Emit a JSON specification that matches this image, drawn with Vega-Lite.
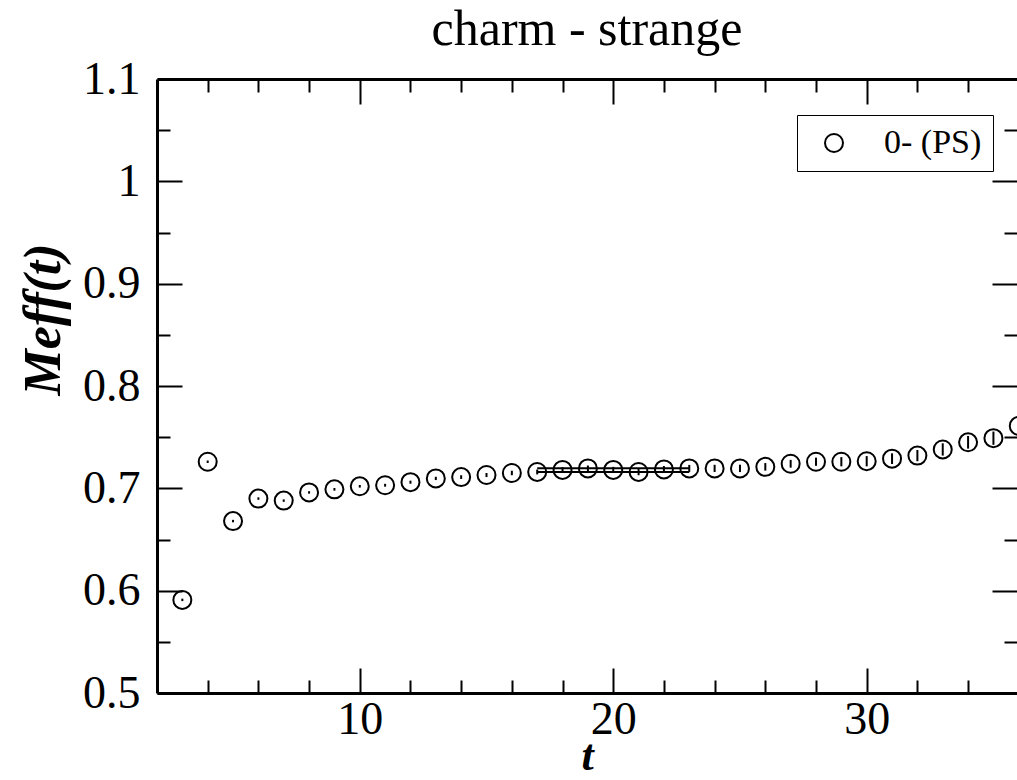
{
  "$schema": "https://vega.github.io/schema/vega-lite/v6.json",
  "width": 860,
  "height": 614,
  "autosize": {"type": "none"},
  "padding": {"left": 157, "top": 79, "right": 0, "bottom": 87},
  "background": "white",
  "title": {"text": "charm - strange", "font": "Liberation Serif", "fontSize": 50, "fontWeight": "normal", "color": "black", "anchor": "middle", "baseline": "alphabetic", "offset": -39},
  "config": {"view": {"stroke": null}},
  "datasets": {
    "meff": [
      {"t": 3, "m": 0.591, "err": 0.0012, "series": "0- (PS)"},
      {"t": 4, "m": 0.726, "err": 0.0012, "series": "0- (PS)"},
      {"t": 5, "m": 0.668, "err": 0.0012, "series": "0- (PS)"},
      {"t": 6, "m": 0.690, "err": 0.0012, "series": "0- (PS)"},
      {"t": 7, "m": 0.688, "err": 0.0012, "series": "0- (PS)"},
      {"t": 8, "m": 0.696, "err": 0.0012, "series": "0- (PS)"},
      {"t": 9, "m": 0.699, "err": 0.0013, "series": "0- (PS)"},
      {"t": 10, "m": 0.702, "err": 0.0013, "series": "0- (PS)"},
      {"t": 11, "m": 0.703, "err": 0.0014, "series": "0- (PS)"},
      {"t": 12, "m": 0.706, "err": 0.0015, "series": "0- (PS)"},
      {"t": 13, "m": 0.7097, "err": 0.0016, "series": "0- (PS)"},
      {"t": 14, "m": 0.711, "err": 0.0018, "series": "0- (PS)"},
      {"t": 15, "m": 0.713, "err": 0.002, "series": "0- (PS)"},
      {"t": 16, "m": 0.715, "err": 0.0022, "series": "0- (PS)"},
      {"t": 17, "m": 0.716, "err": 0.0024, "series": "0- (PS)"},
      {"t": 18, "m": 0.718, "err": 0.0026, "series": "0- (PS)"},
      {"t": 19, "m": 0.7195, "err": 0.0028, "series": "0- (PS)"},
      {"t": 20, "m": 0.718, "err": 0.003, "series": "0- (PS)"},
      {"t": 21, "m": 0.716, "err": 0.0032, "series": "0- (PS)"},
      {"t": 22, "m": 0.7185, "err": 0.0033, "series": "0- (PS)"},
      {"t": 23, "m": 0.7195, "err": 0.0034, "series": "0- (PS)"},
      {"t": 24, "m": 0.7195, "err": 0.0035, "series": "0- (PS)"},
      {"t": 25, "m": 0.7195, "err": 0.0036, "series": "0- (PS)"},
      {"t": 26, "m": 0.721, "err": 0.0037, "series": "0- (PS)"},
      {"t": 27, "m": 0.724, "err": 0.0038, "series": "0- (PS)"},
      {"t": 28, "m": 0.726, "err": 0.004, "series": "0- (PS)"},
      {"t": 29, "m": 0.726, "err": 0.0045, "series": "0- (PS)"},
      {"t": 30, "m": 0.7265, "err": 0.005, "series": "0- (PS)"},
      {"t": 31, "m": 0.729, "err": 0.0052, "series": "0- (PS)"},
      {"t": 32, "m": 0.732, "err": 0.0055, "series": "0- (PS)"},
      {"t": 33, "m": 0.738, "err": 0.006, "series": "0- (PS)"},
      {"t": 34, "m": 0.745, "err": 0.0062, "series": "0- (PS)"},
      {"t": 35, "m": 0.749, "err": 0.0065, "series": "0- (PS)"},
      {"t": 36, "m": 0.761, "err": 0.007, "series": "0- (PS)"}
    ],
    "fit": [
      {"t0": 17, "t1": 23, "m": 0.7197},
      {"t0": 17, "t1": 23, "m": 0.7160}
    ]
  },
  "layer": [
    {
      "data": {"name": "meff"},
      "mark": {"type": "point", "shape": "circle", "filled": false, "color": "black", "strokeWidth": 2, "size": 324, "opacity": 1},
      "encoding": {
        "x": {
          "field": "t", "type": "quantitative",
          "scale": {"domain": [2, 35.93], "nice": false, "zero": false},
          "axis": {
            "orient": "bottom",
            "values": [4, 6, 8, 10, 12, 14, 16, 18, 20, 22, 24, 26, 28, 30, 32, 34],
            "labelExpr": "datum.value % 10 === 0 ? datum.label : ''",
            "tickSize": {"condition": {"test": "datum.value % 10 === 0", "value": -25}, "value": -13},
            "tickWidth": 2, "tickColor": "black",
            "domainColor": "black", "domainWidth": 3,
            "labelFont": "Liberation Serif", "labelFontSize": 46, "labelColor": "black",
            "labelPadding": 65, "labelBaseline": "alphabetic", "labelOverlap": false, "labelFlush": false,
            "grid": false,
            "title": "t", "titleFont": "Liberation Serif", "titleFontSize": 44, "titleFontStyle": "italic", "titleFontWeight": "bold", "titleColor": "black",
            "titleBaseline": "alphabetic", "titleY": 76
          }
        },
        "y": {
          "field": "m", "type": "quantitative",
          "scale": {"domain": [0.5, 1.1], "nice": false, "zero": false},
          "axis": {
            "orient": "left",
            "values": [0.5, 0.55, 0.6, 0.65, 0.7, 0.75, 0.8, 0.85, 0.9, 0.95, 1.0, 1.05, 1.1],
            "labelExpr": "abs(datum.value*10 - round(datum.value*10)) < 0.01 ? format(datum.value, '~g') : ''",
            "tickSize": {"condition": {"test": "abs(datum.value*10 - round(datum.value*10)) < 0.01", "value": -25}, "value": -13},
            "tickWidth": 2, "tickColor": "black",
            "domainColor": "black", "domainWidth": 3,
            "labelFont": "Liberation Serif", "labelFontSize": 46, "labelColor": "black",
            "labelPadding": 42, "labelBaseline": "middle", "labelOverlap": false, "labelFlush": false,
            "grid": false,
            "title": "Meff(t)", "titleFont": "Liberation Serif", "titleFontSize": 52, "titleFontStyle": "italic", "titleFontWeight": "bold", "titleColor": "black",
            "titleBaseline": "alphabetic", "titleAngle": -90, "titleX": -98, "titleY": 240
          }
        },
        "shape": {
          "field": "series", "type": "nominal",
          "scale": {"range": ["circle"]},
          "legend": {
            "orient": "none", "legendX": 640, "legendY": 36,
            "title": null,
            "strokeColor": "black", "padding": 11,
            "symbolOffset": 9, "labelOffset": 33,
            "labelFont": "Liberation Serif", "labelFontSize": 34, "labelColor": "black",
            "symbolSize": 324, "symbolStrokeWidth": 2, "symbolStrokeColor": "black", "symbolFillColor": "transparent", "symbolType": "circle",
            "encode": {"legend": {"update": {"strokeWidth": {"value": 2}}}}
          }
        }
      }
    },
    {
      "data": {"name": "meff"},
      "mark": {"type": "errorbar", "color": "black", "thickness": 2},
      "encoding": {
        "x": {"field": "t", "type": "quantitative", "axis": null},
        "y": {"field": "m", "type": "quantitative", "axis": null},
        "yError": {"field": "err"}
      }
    },
    {
      "data": {"name": "fit"},
      "mark": {"type": "rule", "color": "black", "strokeWidth": 2},
      "encoding": {
        "x": {
          "field": "t0", "type": "quantitative",
          "axis": {
            "orient": "top",
            "values": [4, 6, 8, 10, 12, 14, 16, 18, 20, 22, 24, 26, 28, 30, 32, 34],
            "labels": false,
            "tickSize": {"condition": {"test": "datum.value % 10 === 0", "value": -25}, "value": -13},
            "tickWidth": 2, "tickColor": "black",
            "domainColor": "black", "domainWidth": 3,
            "grid": false, "title": null
          }
        },
        "x2": {"field": "t1"},
        "y": {
          "field": "m", "type": "quantitative",
          "axis": {
            "orient": "right",
            "values": [0.55, 0.6, 0.65, 0.7, 0.75, 0.8, 0.85, 0.9, 0.95, 1.0, 1.05],
            "labels": false,
            "tickSize": {"condition": {"test": "abs(datum.value*10 - round(datum.value*10)) < 0.01", "value": -25}, "value": -13},
            "tickWidth": 2, "tickColor": "black",
            "domain": false,
            "grid": false, "title": null
          }
        }
      }
    }
  ],
  "resolve": {"axis": {"x": "independent", "y": "independent"}}
}
